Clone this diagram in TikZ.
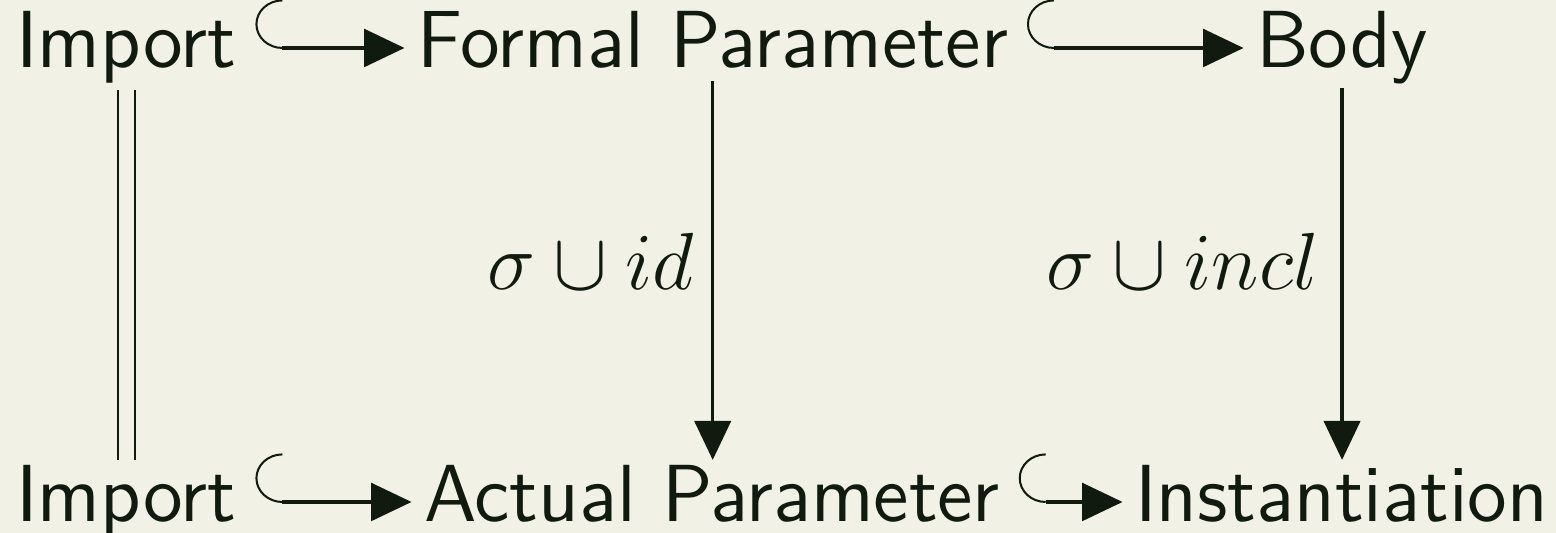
\documentclass[tikz,border=0pt]{standalone}
\usetikzlibrary{arrows.meta}
\definecolor{paper}{RGB}{241,241,230}
\definecolor{ink}{RGB}{17,26,15}
\tikzset{
  obj/.style={inner sep=0pt, anchor=base west, text height=9pt, text depth=3.07pt,
    font=\fontsize{12}{14}\sffamily, text=ink},
  lbl/.style={inner sep=0pt, anchor=base east, text=ink, font=\fontsize{11.5}{13}\selectfont},
  incl/.style={draw=ink, line width=0.48pt, shorten <=2.6pt, shorten >=1.7pt,
    {Hooks[right,arc=180,length=4pt,width=14.4pt,line width=0.3pt]}-{Triangle[length=6pt,width=5.6pt]}},
  map/.style={draw=ink, line width=0.48pt, -{Triangle[length=5.8pt,width=5.4pt]}},
  equal/.style={draw=ink, double=paper, double distance=2.25pt, line width=0.3pt}
}
\begin{document}
\begin{tikzpicture}[x=0.1482pt, y=-0.1482pt]
  \useasboundingbox[fill=paper] (0,0) rectangle (1556,533);
  % top row
  \node[obj] (imp1) at (15,68) {Import};
  \node[obj] (formal) at (416,68) {Formal Parameter};
  \node[obj] (body) at (1255,68) {Body};
  % bottom row
  \node[obj] (imp2) at (15,522) {Import};
  \node[obj] (actual) at (423,522) {Actual Parameter};
  \node[obj] (inst) at (1134,522) {Instantiation};
  % labels
  \node[lbl] (lid) at (695,290) {$\sigma\cup id$};
  \node[lbl] (lincl) at (1320,290) {$\sigma\cup incl$};
  % arrows
  \draw[incl] (imp1) -- (formal);
  \draw[incl] (formal) -- (body);
  \draw[incl] (imp2) -- (actual);
  \draw[incl] (actual) -- (inst);
  \draw[equal] (imp1.south) -- (imp2.north);
  \draw[map, shorten <=-1.4pt] (formal.south) -- (formal.south |- actual.north);
  \draw[map, shorten <=-0.3pt] (body.south) -- (body.south |- inst.north);
\end{tikzpicture}
\end{document}
